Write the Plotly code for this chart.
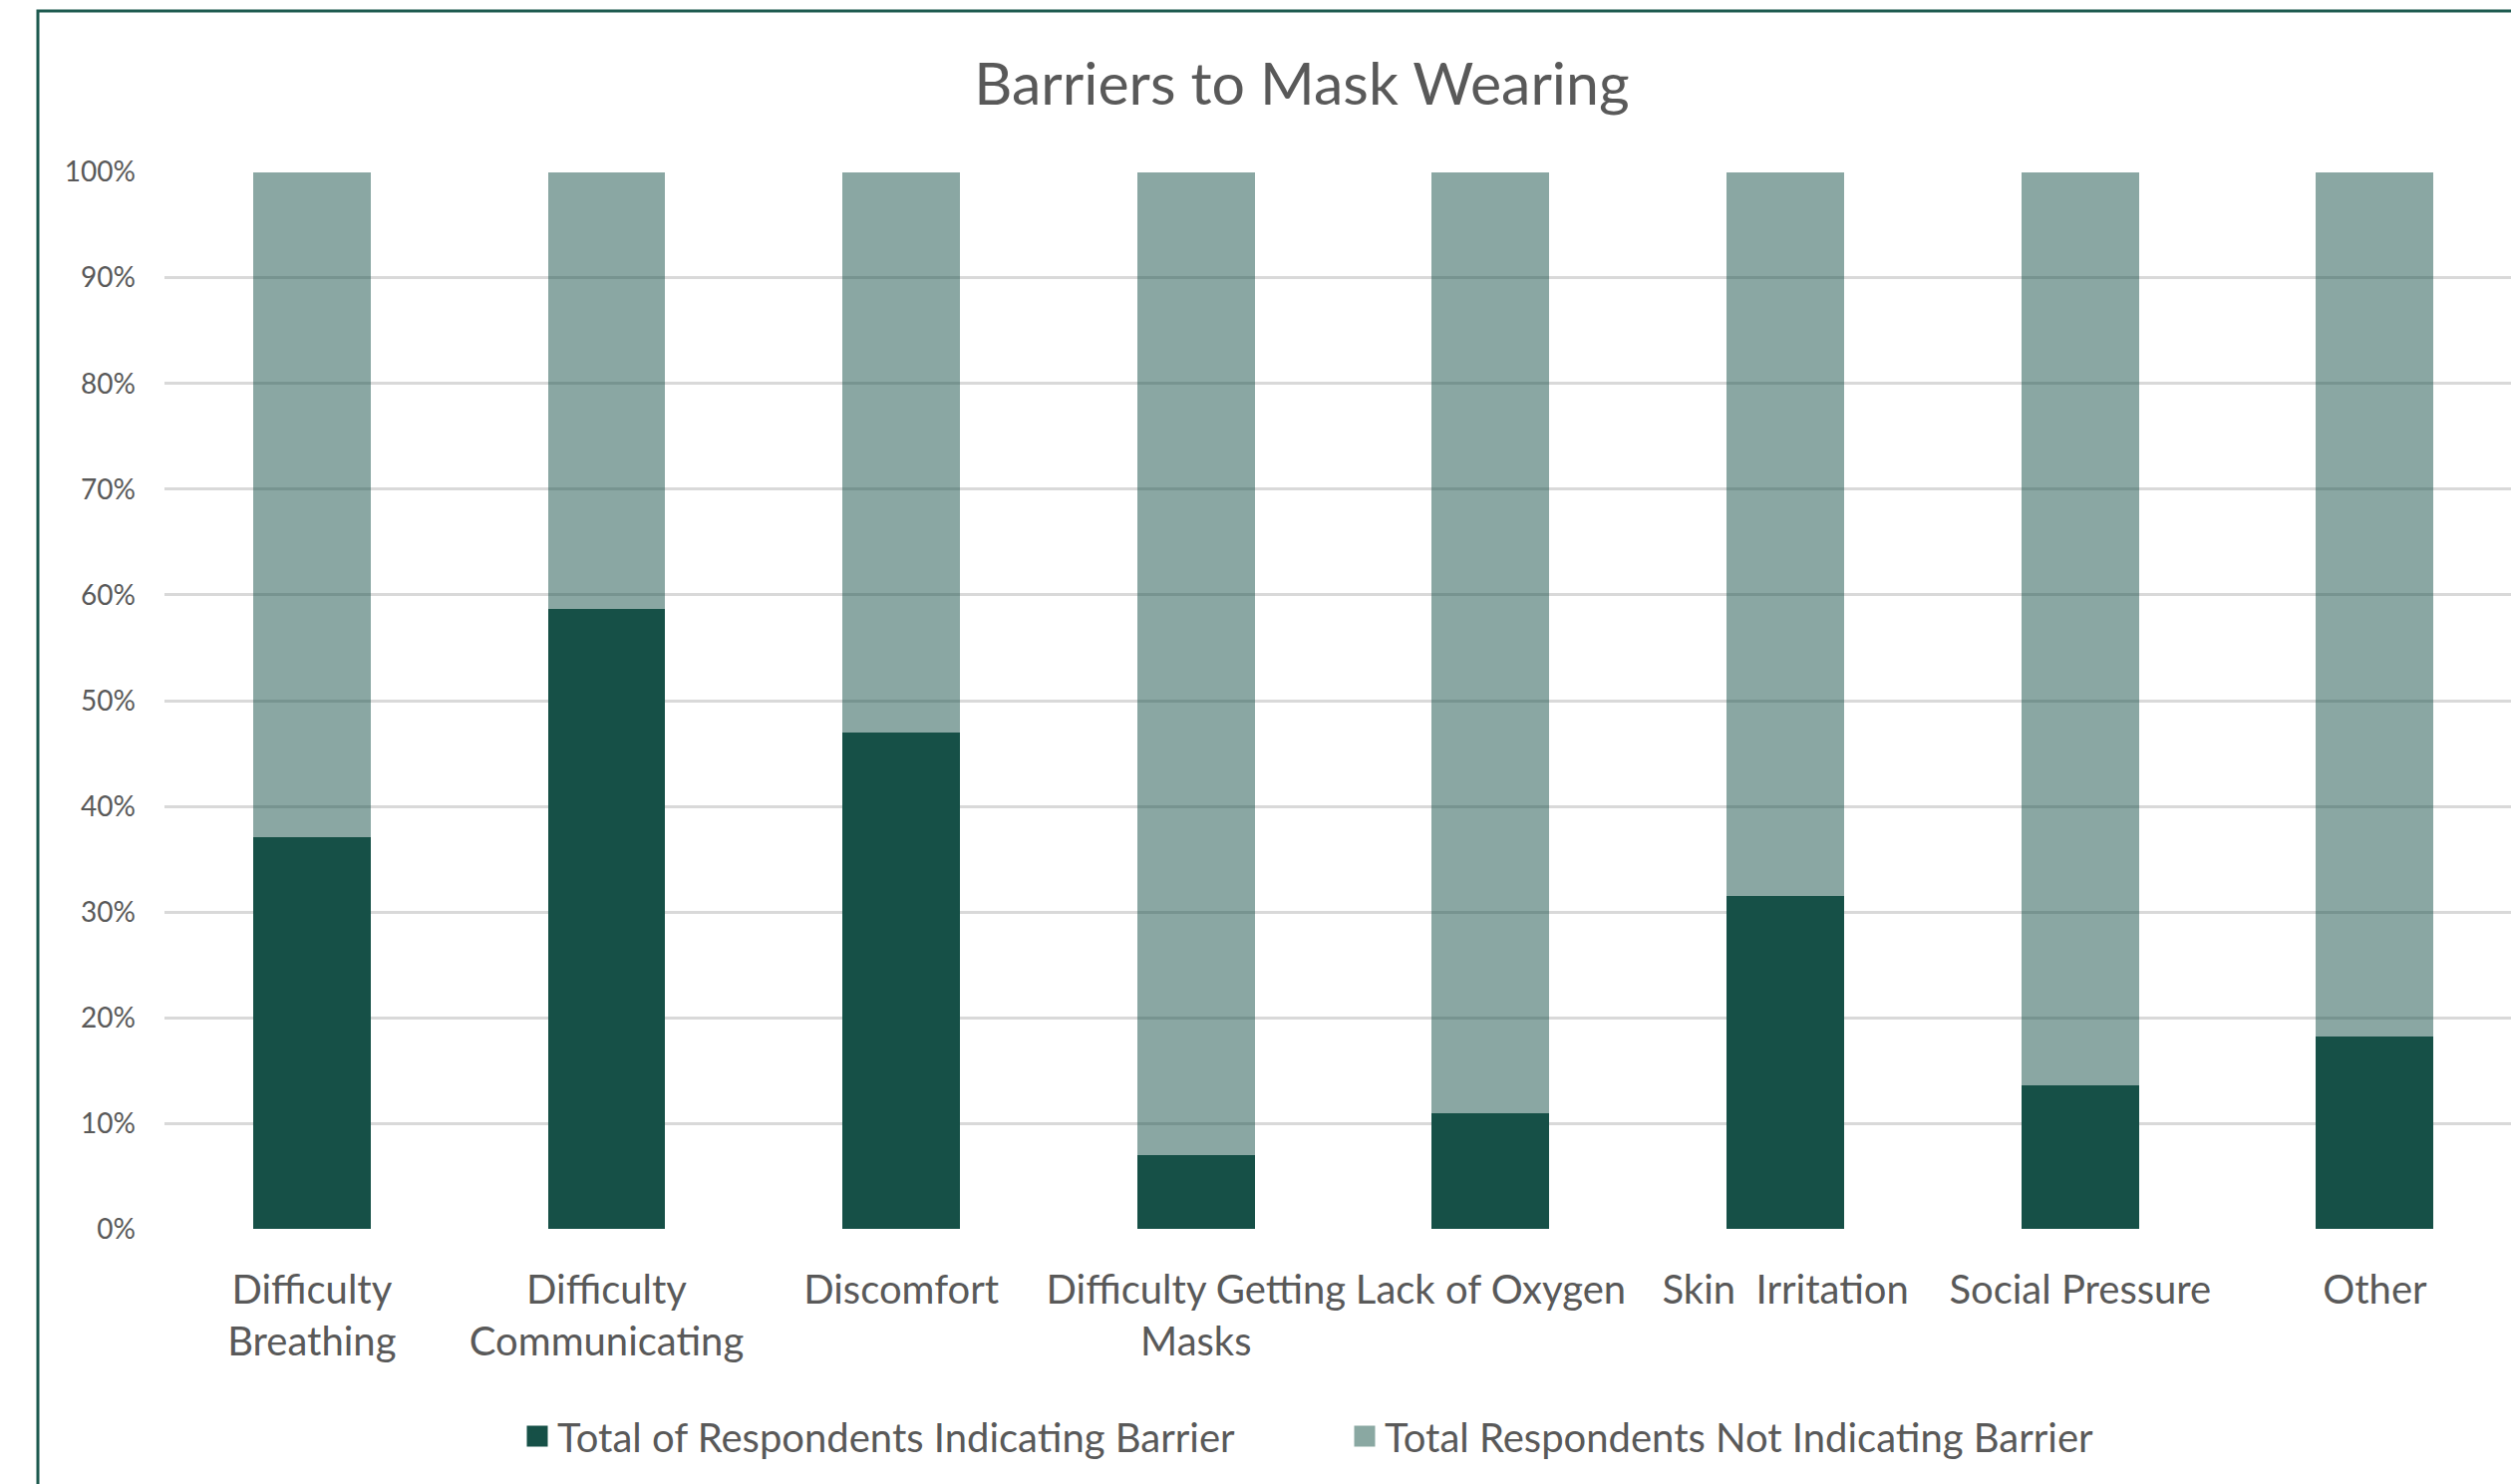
import plotly.graph_objects as go

categories = [
    "Difficulty<br>Breathing",
    "Difficulty<br>Communicating",
    "Discomfort",
    "Difficulty Getting<br>Masks",
    "Lack of Oxygen",
    "Skin  Irritation",
    "Social Pressure",
    "Other",
]
indicating = [37.1, 58.7, 47.0, 7.0, 11.0, 31.5, 13.6, 18.2]
not_indicating = [62.9, 41.3, 53.0, 93.0, 89.0, 68.5, 86.4, 81.8]
series_names = ["Total of Respondents Indicating Barrier", "Total Respondents Not Indicating Barrier"]
y_ticks = list(range(0, 101, 10))
title_text = "Barriers to Mask Wearing"

DARK = "rgb(22,80,71)"
LIGHT = "rgba(22,80,71,0.5)"
TEXT = "#595959"
FONT = "Lato"

W, H = 2519, 1489
L, R, T, B = 165, 0, 172, 255
step = 295.66

fig = go.Figure()
fig.add_trace(go.Bar(x=categories, y=indicating, name=series_names[0],
                     marker=dict(color=DARK, line=dict(width=0)), showlegend=False))
fig.add_trace(go.Bar(x=categories, y=not_indicating, name=series_names[1],
                     marker=dict(color=LIGHT, line=dict(width=0)), showlegend=False))
# legend proxies
fig.add_trace(go.Scatter(x=[None], y=[None], mode="markers", name=series_names[0],
                         marker=dict(symbol="square", size=16, color=DARK, line=dict(color=DARK, width=5))))
fig.add_trace(go.Scatter(x=[None], y=[None], mode="markers", name=series_names[1],
                         marker=dict(symbol="square", size=16, color="rgb(138,168,162)",
                                     line=dict(color="rgb(138,168,162)", width=5))))

plot_w = W - L - R
plot_h = H - T - B

fig.update_layout(
    width=W, height=H,
    margin=dict(l=L, r=R, t=T, b=B, pad=0),
    paper_bgcolor="white", plot_bgcolor="white",
    barmode="stack", bargap=0.601,
    font=dict(family=FONT, color=TEXT),
    title=dict(text=title_text, x=1306 / W, xanchor="center", xref="container",
               y=1 - 84 / H, yanchor="middle", yref="container",
               font=dict(family=FONT, size=59, color=TEXT)),
    xaxis=dict(type="category", range=[-0.5, -0.5 + plot_w / step],
               showgrid=False, zeroline=False, showline=False, ticks="",
               tickfont=dict(family=FONT, size=40, color=TEXT), ticklabelstandoff=33,
               fixedrange=True),
    yaxis=dict(range=[-0.05, 100.05], tickvals=y_ticks, ticktext=[f"{v}%" for v in y_ticks],
               showgrid=True, gridcolor="#d9d9d9", gridwidth=2.5, zeroline=False,
               showline=False, ticks="", tickfont=dict(family=FONT, size=28, color=TEXT),
               ticklabelstandoff=28, fixedrange=True),
    legend=dict(orientation="h", xref="container", yref="container",
                x=519 / W, xanchor="left", y=1 - 1441 / H, yanchor="middle",
                font=dict(family=FONT, size=40, color=TEXT),
                entrywidth=785, entrywidthmode="pixels",
                itemsizing="trace", bgcolor="rgba(0,0,0,0)", traceorder="normal"),
    shapes=[dict(type="rect", xref="paper", yref="paper",
                 x0=(38 - L) / plot_w, x1=1.3, y0=-0.5, y1=(H - B - 11) / plot_h,
                 line=dict(color="#1d5a4f", width=3), fillcolor="rgba(0,0,0,0)", layer="above")],
)

fig.write_html("out.html")
